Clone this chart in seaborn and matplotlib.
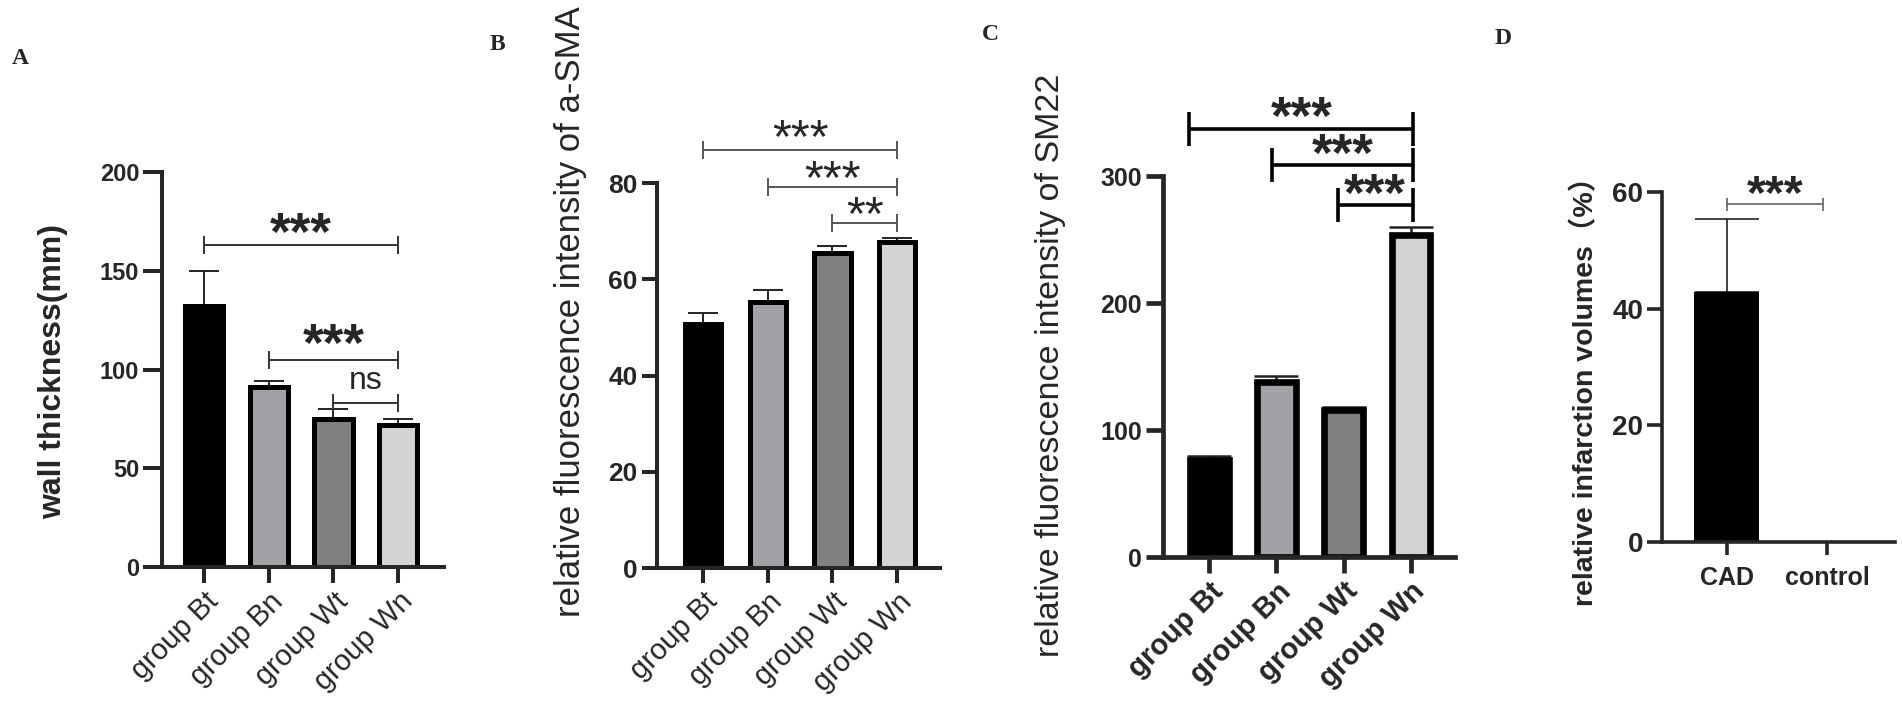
import numpy as np
import matplotlib
matplotlib.use('Agg')
import matplotlib.pyplot as plt
from matplotlib.transforms import offset_copy
import seaborn as sns

sns.set_style('ticks')
plt.rcParams['font.family'] = ['Liberation Sans', 'Noto Sans CJK SC', 'DejaVu Sans']

# data
groups = ['group Bt', 'group Bn', 'group Wt', 'group Wn']
bar_colors = ['#000000', '#a2a2a6', '#808080', '#d3d3d3']

wall_mean = [132, 91, 75, 72]
wall_err = [18, 3, 5, 3]

sma_mean = [50.8, 55.2, 65.4, 67.7]
sma_err = [2.1, 2.5, 1.5, 0.8]

sm22_mean = [76.5, 137.8, 115.7, 253.5]
sm22_err = [3.1, 4.7, 2.3, 6.5]

d_groups = ['CAD', 'control']
d_colors = ['#000000', '#000000']
inf_mean = [42.8, 0]
inf_err = [12.6, 0]

fig = plt.figure(figsize=(19.02, 7.05), dpi=100)


def bars(ax, cats, means, errs, colors, width, edge_lw, cap, elw):
    sns.barplot(x=cats, y=means, hue=cats, palette=colors, legend=False,
                saturation=1, width=width, edgecolor='black',
                linewidth=edge_lw, ax=ax, zorder=2)
    n = len(cats)
    ax.errorbar(np.arange(n), means, yerr=[np.zeros(n), errs], fmt='none',
                ecolor='#222222', elinewidth=elw, capsize=cap, capthick=elw,
                zorder=1)


def bracket(ax, x1, x2, y, h, lw, color):
    ax.plot([x1, x2], [y, y], color=color, lw=lw, clip_on=False,
            solid_capstyle='butt')
    ax.vlines([x1, x2], y - h, y + h, color=color, lw=lw, clip_on=False)


def stars(ax, x, y, txt, fs, weight='normal', rise=0.57):
    tr = offset_copy(ax.transData, fig=fig, y=-rise * fs, units='points')
    ax.text(x, y, txt, transform=tr, ha='center', va='baseline',
            fontsize=fs, fontweight=weight, clip_on=False)


def style(ax, spine_lw, ylen, xlen, yfs, xfs, xweight, rot):
    sns.despine(ax=ax)
    for s in ['left', 'bottom']:
        ax.spines[s].set_linewidth(spine_lw)
    ax.tick_params(axis='y', length=ylen, width=spine_lw, labelsize=yfs, pad=3)
    ax.tick_params(axis='x', length=xlen, width=spine_lw, labelsize=xfs, pad=3)
    for t in ax.get_yticklabels():
        t.set_fontweight('bold')
    for t in ax.get_xticklabels():
        t.set_fontweight(xweight)
        if rot:
            t.set_rotation(45)
            t.set_ha('right')
            t.set_rotation_mode('anchor')
    ax.set_xlabel('')


def ylab(ax, txt, fs, weight, xc, yc):
    ax.set_ylabel(txt, fontsize=fs, fontweight=weight)
    ax.yaxis.set_label_coords(xc, yc)
    ax.yaxis.label.set_va('center')


# ---- A ----
axA = fig.add_axes([0.0852, 0.1957, 0.1483, 0.5603])
bars(axA, groups, wall_mean, wall_err, bar_colors, 0.59, 3.6, 11, 1.4)
axA.set_ylim(0, 200)
axA.set_yticks([0, 50, 100, 150, 200])
axA.set_xlim(-0.65, 3.71)
style(axA, 2.9, 13.5, 11.5, 17, 21, 'normal', True)
ylab(axA, 'wall thickness(mm)', 23, 'bold', -0.387, 0.494)
bracket(axA, 0, 3, 163, 4.5, 1.4, '#333333')
stars(axA, 1.5, 176, '***', 38, 'bold')
bracket(axA, 1, 3, 105, 4.5, 1.4, '#333333')
stars(axA, 2, 119.5, '***', 38, 'bold')
bracket(axA, 2, 3, 83, 4.5, 1.4, '#333333')
stars(axA, 2.5, 94.5, 'ns', 23, 'normal', rise=0.26)

# ---- B ----
axB = fig.add_axes([0.3454, 0.1943, 0.1488, 0.5461])
bars(axB, groups, sma_mean, sma_err, bar_colors, 0.56, 3.6, 11, 1.4)
axB.set_ylim(0, 80)
axB.set_yticks([0, 20, 40, 60, 80])
axB.set_xlim(-0.71, 3.66)
style(axB, 2.9, 11, 11, 19, 21, 'normal', True)
ylab(axB, 'relative fluorescence intensity of a-SMA', 25, 'normal', -0.304, 0.665)
bracket(axB, 0, 3, 86.9, 1.9, 1.4, '#555555')
stars(axB, 1.5, 92.3, '***', 35)
bracket(axB, 1, 3, 79.2, 1.9, 1.4, '#555555')
stars(axB, 2, 83.75, '***', 35)
bracket(axB, 2, 3, 71.7, 1.9, 1.4, '#555555')
stars(axB, 2.5, 76.25, '**', 35)

# ---- C ----
axC = fig.add_axes([0.6115, 0.2099, 0.1535, 0.5404])
bars(axC, groups, sm22_mean, sm22_err, bar_colors, 0.57, 4.8, 16, 1.8)
axC.set_ylim(0, 300)
axC.set_yticks([0, 100, 200, 300])
axC.set_xlim(-0.69, 3.66)
style(axC, 3.4, 12, 11.5, 18, 21, 'bold', True)
ylab(axC, 'relative fluorescence intensity of SM22', 24.5, 'normal', -0.387, 0.503)
bracket(axC, -0.3, 3.03, 337.4, 13.4, 2.6, '#000000')
stars(axC, 1.37, 357, '***', 38, 'bold')
bracket(axC, 0.94, 3.03, 309, 13.4, 2.6, '#000000')
stars(axC, 1.99, 328, '***', 38, 'bold')
bracket(axC, 1.91, 3.03, 277.4, 13.4, 2.6, '#000000')
stars(axC, 2.47, 296.4, '***', 38, 'bold')

# ---- D ----
axD = fig.add_axes([0.8738, 0.2312, 0.1225, 0.4965])
bars(axD, d_groups, inf_mean, inf_err, d_colors, 0.65, 0, 23, 1.2)
axD.set_ylim(0, 60)
axD.set_yticks([0, 20, 40, 60])
axD.set_xlim(-0.65, 1.68)
style(axD, 2.6, 10.5, 9.5, 20, 18, 'bold', False)
axD.tick_params(axis='x', pad=8)
ylab(axD, 'relative infarction volumes（%）', 20.5, 'bold', -0.33, 0.451)
bracket(axD, 0, 0.96, 57.9, 1.15, 1.1, '#555555')
stars(axD, 0.48, 62, '***', 35, 'bold')

# panel letters
for letter, x, y in [('A', 20, 58), ('B', 497, 45), ('C', 990, 35), ('D', 1503, 39)]:
    fig.text(x / 1902, 1 - y / 705, letter, ha='center', va='center',
             fontsize=17, fontweight='bold', family='Liberation Serif')

fig.savefig('out.png', dpi=100)
